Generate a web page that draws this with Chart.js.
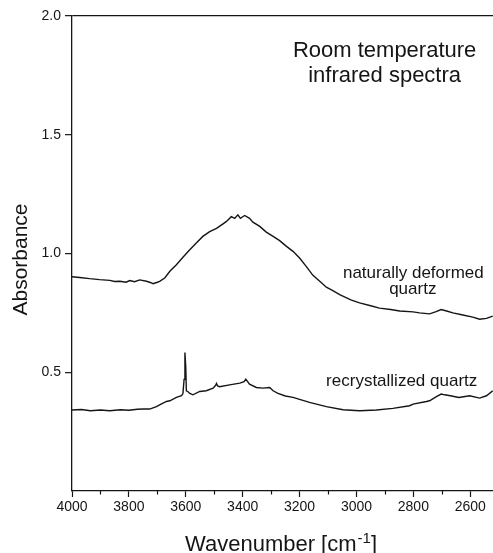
<!DOCTYPE html>
<html lang="en">
  <head>
    <meta charset="UTF-8" />
    <title>Room temperature infrared spectra</title>
    <script src="https://cdn.jsdelivr.net/npm/chart.js@4"></script>
    <style>
      html, body { margin: 0; padding: 0; background: #fff; }
      #wrap { width: 493px; height: 553px; }
    </style>
  </head>
  <body>
    <div id="wrap"><canvas id="myChart" width="493" height="553"></canvas></div>
    <script>
      /*** data ***/
      // naturally deformed quartz
      const deformedWn = [4000, 3973, 3938, 3903, 3867, 3850, 3832, 3810, 3797, 3780, 3762, 3738, 3725, 3715, 3700, 3692,
        3674, 3656, 3633, 3610, 3586, 3563, 3540, 3516, 3492, 3469, 3457, 3440, 3428, 3417, 3408, 3393, 3376, 3364,
        3340, 3317, 3293, 3270, 3246, 3223, 3200, 3176, 3153, 3129, 3106, 3083, 3059, 3020, 2989, 2950, 2919, 2880,
        2848, 2801, 2778, 2743, 2720, 2702, 2680, 2661, 2626, 2591, 2567, 2543, 2521];
      const deformedAbs = [0.902, 0.899, 0.894, 0.890, 0.887, 0.882, 0.883, 0.879, 0.886, 0.881, 0.889, 0.883, 0.878, 0.873, 0.879, 0.883,
        0.897, 0.925, 0.953, 0.984, 1.016, 1.044, 1.072, 1.092, 1.106, 1.125, 1.135, 1.155, 1.148, 1.163, 1.148, 1.160, 1.148, 1.132,
        1.114, 1.090, 1.072, 1.054, 1.030, 1.009, 0.981, 0.945, 0.908, 0.883, 0.858, 0.844, 0.827, 0.805, 0.792, 0.780, 0.770, 0.764,
        0.758, 0.754, 0.750, 0.746, 0.755, 0.764, 0.757, 0.750, 0.741, 0.732, 0.723, 0.727, 0.736];

      // recrystallized quartz
      const recrystWn = [4000, 3967, 3935, 3900, 3867, 3830, 3800, 3770, 3750, 3727, 3703, 3692, 3668, 3656, 3633, 3615,
        3610, 3606, 3603, 3600, 3598, 3592, 3586, 3575, 3551, 3528, 3504, 3495, 3492, 3488, 3481, 3446, 3410, 3395,
        3389, 3376, 3352, 3329, 3305, 3293, 3276, 3250, 3223, 3165, 3106, 3047, 2989, 2930, 2872, 2813, 2801, 2754,
        2743, 2719, 2702, 2690, 2670, 2640, 2602, 2567, 2543, 2521];
      const recrystAbs = [0.341, 0.343, 0.338, 0.341, 0.338, 0.342, 0.340, 0.344, 0.345, 0.345, 0.355, 0.363, 0.377, 0.380, 0.394, 0.401,
        0.410, 0.470, 0.583, 0.520, 0.422, 0.418, 0.411, 0.405, 0.419, 0.422, 0.433, 0.445, 0.453, 0.442, 0.439, 0.447, 0.454, 0.460,
        0.471, 0.450, 0.436, 0.433, 0.436, 0.422, 0.411, 0.400, 0.394, 0.373, 0.355, 0.342, 0.338, 0.341, 0.348, 0.359, 0.366, 0.377,
        0.380, 0.397, 0.408, 0.405, 0.401, 0.394, 0.401, 0.391, 0.401, 0.422];

      const xMajorTicks = [4000, 3800, 3600, 3400, 3200, 3000, 2800, 2600];
      const xMinorTicks = [3900, 3700, 3500, 3300, 3100, 2900, 2700];
      const yTicks = [0.5, 1.0, 1.5, 2.0];

      const FONT = "'Liberation Sans', Arial, Helvetica, sans-serif";
      const INK = "#151515";

      const toPoints = (xs, ys) => xs.map((x, i) => ({ x: x, y: ys[i] }));

      // texts drawn on the canvas: labels, axis titles, minor ticks
      const annotate = {
        id: "annotate",
        afterDraw(chart) {
          const c = chart.ctx;
          const xs = chart.scales.x;
          const ys = chart.scales.y;
          const area = chart.chartArea;
          c.save();
          c.fillStyle = INK;
          c.strokeStyle = INK;

          // minor ticks on the wavenumber axis
          c.lineWidth = 1.2;
          xMinorTicks.forEach((v) => {
            const px = Math.round(xs.getPixelForValue(v)) + 0.5;
            c.beginPath();
            c.moveTo(px, area.bottom);
            c.lineTo(px, area.bottom + 3.5);
            c.stroke();
          });

          c.textAlign = "center";
          c.textBaseline = "alphabetic";

          c.font = "22px " + FONT;
          c.fillText("Room temperature", xs.getPixelForValue(2901), ys.getPixelForValue(1.826));
          c.fillText("infrared spectra", xs.getPixelForValue(2901), ys.getPixelForValue(1.721));

          c.font = "17px " + FONT;
          c.fillText("naturally deformed", xs.getPixelForValue(2800), ys.getPixelForValue(0.897));
          c.fillText("quartz", xs.getPixelForValue(2802), ys.getPixelForValue(0.830));
          c.fillText("recrystallized quartz", xs.getPixelForValue(2841), ys.getPixelForValue(0.443));

          // y axis title
          c.font = "21px " + FONT;
          c.save();
          c.translate(27, (area.top + area.bottom) / 2 + 6);
          c.rotate(-Math.PI / 2);
          c.fillText("Absorbance", 0, 0);
          c.restore();

          // x axis title with superscript
          const main = "Wavenumber [cm";
          const sup = "-1";
          const end = "]";
          c.font = "22px " + FONT;
          const wMain = c.measureText(main).width;
          const wEnd = c.measureText(end).width;
          c.font = "15px " + FONT;
          const wSup = c.measureText(sup).width;
          const total = wMain + wSup + wEnd;
          let x0 = (area.left + area.right) / 2 - 2 - total / 2;
          const base = 551;
          c.textAlign = "left";
          c.font = "22px " + FONT;
          c.fillText(main, x0, base);
          c.font = "15px " + FONT;
          c.fillText(sup, x0 + wMain + 1, base - 8);
          c.font = "22px " + FONT;
          c.fillText(end, x0 + wMain + wSup + 1, base);
          c.restore();
        },
      };

      const ctx = document.getElementById("myChart").getContext("2d");
      const chart = new Chart(ctx, {
        type: "scatter",
        data: {
          datasets: [
            {
              label: "naturally deformed quartz",
              data: toPoints(deformedWn, deformedAbs),
              showLine: true,
              borderColor: INK,
              borderWidth: 1.4,
              pointRadius: 0,
              tension: 0,
            },
            {
              label: "recrystallized quartz",
              data: toPoints(recrystWn, recrystAbs),
              showLine: true,
              borderColor: INK,
              borderWidth: 1.4,
              pointRadius: 0,
              tension: 0,
            },
          ],
        },
        options: {
          responsive: false,
          animation: false,
          layout: { padding: { top: 16, right: 0, left: 0, bottom: 0 } },
          plugins: {
            legend: { display: false },
            tooltip: { enabled: false },
          },
          scales: {
            x: {
              type: "linear",
              reverse: true,
              min: 2520,
              max: 4000,
              afterBuildTicks: (scale) => {
                scale.ticks = xMajorTicks.map((v) => ({ value: v }));
              },
              afterFit: (scale) => {
                scale.height = 62;
              },
              border: { display: true, color: INK, width: 1.3 },
              grid: {
                color: "rgba(0,0,0,0)",
                tickColor: INK,
                tickLength: 6,
                tickWidth: 1.2,
              },
              ticks: {
                color: INK,
                padding: 2,
                maxRotation: 0,
                font: { family: FONT, size: 14 },
                callback: (v) => String(v),
              },
            },
            y: {
              min: 0,
              max: 2,
              afterBuildTicks: (scale) => {
                scale.ticks = yTicks.map((v) => ({ value: v }));
              },
              afterFit: (scale) => {
                scale.width = 72;
              },
              border: { display: true, color: INK, width: 1.3 },
              grid: {
                color: (c) => (c.tick && c.tick.value === 2 ? INK : "rgba(0,0,0,0)"),
                lineWidth: 1.3,
                tickColor: INK,
                tickLength: 7,
                tickWidth: 1.2,
              },
              ticks: {
                color: INK,
                padding: 4,
                font: { family: FONT, size: 14 },
                callback: (v) => v.toFixed(1),
              },
            },
          },
        },
        plugins: [annotate],
      });
    </script>
  </body>
</html>
